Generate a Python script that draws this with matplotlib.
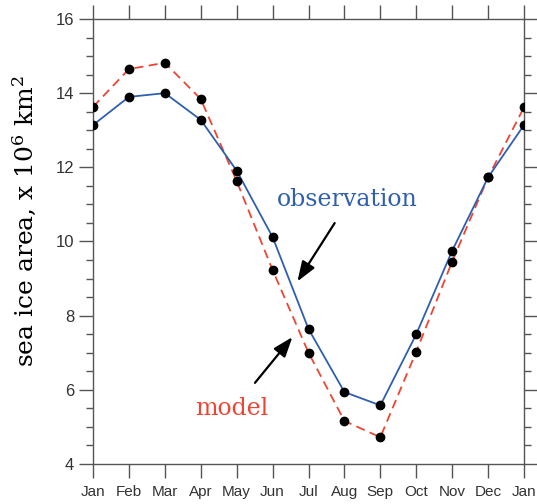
import matplotlib.pyplot as plt
import numpy as np

# monthly sea ice area (x 10^6 km^2), Jan..Dec then Jan again
months = ["Jan", "Feb", "Mar", "Apr", "May", "Jun", "Jul",
          "Aug", "Sep", "Oct", "Nov", "Dec", "Jan"]
observation = [13.14, 13.90, 14.00, 13.28, 11.91, 10.12, 7.64,
               5.94, 5.58, 7.50, 9.75, 11.73, 13.14]
model = [13.63, 14.65, 14.82, 13.84, 11.63, 9.23, 7.00,
         5.16, 4.72, 7.03, 9.46, 11.73, 13.62]

blue = '#2f5fae'
red = '#ee4433'
gray = '#555555'

plt.rcParams['mathtext.fontset'] = 'dejavuserif'
fig = plt.figure(figsize=(5.37, 5.04), dpi=100)
ax = fig.add_axes([0.1732, 0.0794, 0.8026, 0.8829])

x = np.arange(len(months))
ax.plot(x, model, color=red, lw=1.3, dashes=(5, 3), zorder=2)
ax.plot(x, observation, color=blue, lw=1.3, zorder=3)
ax.plot(x, model, 'o', color='black', ms=6, zorder=4)
ax.plot(x, observation, 'o', color='black', ms=6, zorder=4)

ax.set_xlim(0, 12)
ax.set_ylim(4, 16)
ax.set_xticks(x)
ax.set_xticklabels(months, fontsize=11, color='#333333', family='Liberation Sans')
ax.set_yticks(np.arange(4, 17, 2))
ax.set_yticks(np.arange(4, 16.1, 0.5), minor=True)
for lab in ax.get_yticklabels():
    lab.set_fontsize(12)
    lab.set_family('Liberation Sans')
    lab.set_color('#333333')

ax.tick_params(which='both', direction='out', color=gray, top=True, right=True,
               labeltop=False, labelright=False)
ax.tick_params(which='major', length=10, width=1)
ax.tick_params(which='minor', length=5, width=1)
ax.tick_params(axis='x', pad=5)
for s in ax.spines.values():
    s.set_color(gray)
    s.set_linewidth(1)

ax.set_ylabel(r"sea ice area, x $10^6$ km$^2$", fontsize=18,
              family='DejaVu Serif', va='center')
ax.yaxis.set_label_coords(-0.16, 0.545)

# labels with arrows
arrow = dict(arrowstyle='-|>,head_length=0.55,head_width=0.2', color='black',
             lw=1.6, mutation_scale=22)
ax.text(7.07, 10.96, "observation", color=blue, fontsize=17,
        family='DejaVu Serif', ha='center', va='baseline')
ax.annotate("", xy=(5.65, 8.86), xytext=(6.77, 10.56), arrowprops=arrow)
ax.text(3.87, 5.33, "model", color=red, fontsize=17,
        family='DejaVu Serif', ha='center', va='baseline')
ax.annotate("", xy=(5.6, 7.48), xytext=(4.46, 6.13), arrowprops=arrow)

fig.savefig("out.png", dpi=100)
